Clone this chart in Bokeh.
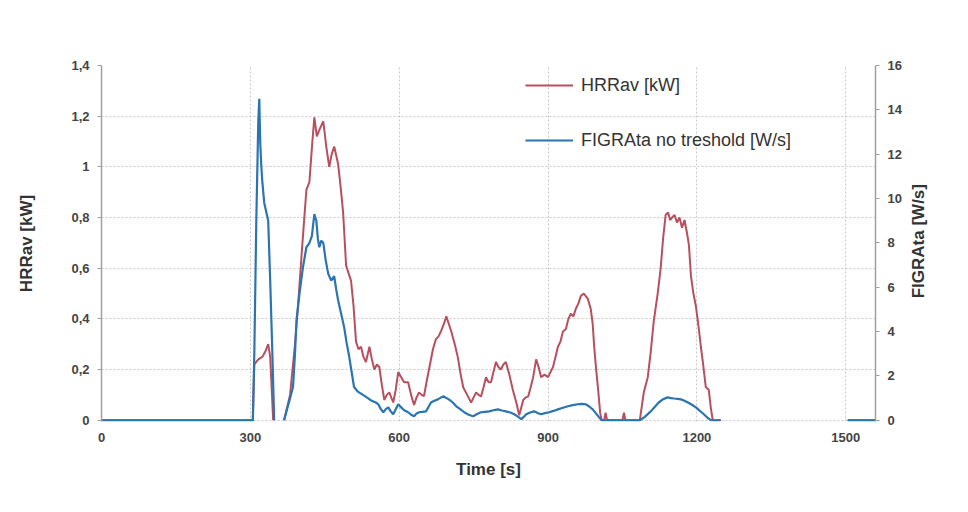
import math
from bokeh.plotting import figure
from bokeh.models import (Range1d, LinearAxis, FixedTicker, CustomJSTickFormatter,
                          Legend, LegendItem)
from bokeh.embed import file_html
from bokeh.resources import INLINE

nan = float("nan")

# HRRav [kW]  (left axis)
hrr_t = [0, 305, 308, 316, 324, 330, 336, 340, 346, 357,
         368, 380, 390, 396, 405, 413, 419, 425, 429, 434, 440, 447, 453, 459, 464, 469,
         477, 482, 487, 493, 503, 508, 513, 518, 523, 528, 533, 540, 545, 550, 555, 560,
         565, 570, 575, 580, 588, 593, 598, 604, 610, 618, 624, 630, 635, 640, 645, 650,
         655, 662, 668, 674, 679, 684, 690, 695, 700, 705, 712, 718, 724, 729, 737, 745,
         750, 755, 760, 765, 770, 775, 780, 785, 790, 795, 800, 805, 810, 815, 822, 829,
         836, 842, 846, 850, 855, 860, 865, 870, 876, 881, 886, 893, 900, 905, 910, 915,
         920, 925, 930, 936, 941, 946, 951, 956, 961, 966, 972, 976, 980, 986, 990, 993,
         997, 1001, 1005, 1008, 1013, 1016, 1019, 1050, 1053, 1056, 1085, 1093, 1101, 1107,
         1113, 1121, 1127, 1132, 1137, 1142, 1146, 1150, 1155, 1160, 1165, 1170, 1175, 1180,
         1184, 1188, 1193, 1198, 1204, 1208, 1212, 1218, 1224, 1228, 1232, 1248, 1300,
         1504, 1560]
hrr_v = [0, 0, 0.22, 0.24, 0.25, 0.27, 0.30, 0.25, 0.0, nan,
         0.0, 0.10, 0.30, 0.45, 0.70, 0.91, 0.94, 1.10, 1.195, 1.12, 1.15, 1.18, 1.08, 1.00, 1.05, 1.08,
         1.01, 0.92, 0.82, 0.61, 0.55, 0.45, 0.31, 0.28, 0.29, 0.25, 0.23, 0.29, 0.24, 0.20, 0.22, 0.21,
         0.14, 0.08, 0.10, 0.11, 0.07, 0.12, 0.19, 0.17, 0.15, 0.15, 0.10, 0.06, 0.09, 0.11, 0.10, 0.095,
         0.15, 0.22, 0.28, 0.32, 0.33, 0.35, 0.38, 0.41, 0.38, 0.35, 0.30, 0.25, 0.18, 0.13, 0.10, 0.07,
         0.09, 0.11, 0.10, 0.094, 0.13, 0.17, 0.15, 0.15, 0.19, 0.23, 0.21, 0.20, 0.22, 0.23, 0.18, 0.12,
         0.07, 0.02, 0.05, 0.08, 0.09, 0.094, 0.13, 0.17, 0.24, 0.21, 0.17, 0.18, 0.17, 0.19, 0.21, 0.25,
         0.29, 0.31, 0.35, 0.36, 0.40, 0.42, 0.41, 0.44, 0.46, 0.49, 0.50, 0.49, 0.48, 0.44, 0.38, 0.29,
         0.20, 0.12, 0.03, 0.0, 0.0, 0.03, 0.0, 0.0, 0.03, 0.0, 0.0, 0.11, 0.17, 0.27,
         0.39, 0.50, 0.60, 0.72, 0.81, 0.82, 0.79, 0.80, 0.81, 0.78, 0.80, 0.76, 0.79, 0.74,
         0.69, 0.57, 0.50, 0.45, 0.36, 0.29, 0.23, 0.13, 0.12, 0.05, 0.0, 0.0, nan,
         0.0, 0.0]

# FIGRAta no treshold [W/s]  (right axis)
figra_t = [0, 305, 308, 312, 316, 318, 320, 322, 324, 328, 332, 336, 340, 344, 348, 357,
           368, 374, 379, 386, 390, 393, 399, 406, 413, 419, 424, 429, 433, 436, 439, 443,
           447, 452, 457, 463, 469, 473, 477, 483, 489, 494, 499, 504, 509, 516, 523, 530,
           537, 543, 548, 553, 558, 563, 568, 573, 578, 583, 588, 593, 598, 604, 610, 618,
           624, 630, 635, 640, 647, 654, 659, 664, 671, 678, 684, 690, 695, 700, 708, 715,
           723, 731, 740, 749, 757, 765, 773, 781, 790, 799, 807, 815, 824, 832, 840, 846,
           851, 856, 864, 872, 879, 886, 894, 902, 911, 920, 930, 940, 950, 960, 968, 976,
           983, 990, 997, 1003, 1008, 1085, 1095, 1107, 1115, 1123, 1132, 1141, 1148, 1154,
           1161, 1168, 1175, 1182, 1190, 1198, 1206, 1214, 1221, 1228, 1248, 1300, 1504, 1560]
figra_v = [0, 0, 3.0, 9.0, 13.5, 14.5, 12.5, 11.5, 10.8, 9.8, 9.4, 9.0, 6.3, 3.3, 0.0, nan,
           0.0, 0.5, 0.9, 1.5, 3.0, 4.5, 5.7, 6.9, 7.8, 8.0, 8.3, 9.3, 9.0, 8.2, 7.8, 8.1,
           8.0, 7.2, 6.6, 6.3, 6.5, 5.9, 5.4, 4.8, 4.2, 3.5, 2.9, 2.2, 1.5, 1.3, 1.2, 1.1,
           1.0, 0.9, 0.85, 0.8, 0.72, 0.5, 0.36, 0.5, 0.58, 0.4, 0.27, 0.5, 0.72, 0.58, 0.45, 0.36,
           0.25, 0.18, 0.3, 0.36, 0.38, 0.4, 0.6, 0.8, 0.88, 0.94, 1.02, 1.08, 1.0, 0.94, 0.8, 0.63,
           0.5, 0.36, 0.25, 0.18, 0.28, 0.36, 0.38, 0.40, 0.45, 0.49, 0.44, 0.40, 0.35, 0.27, 0.15, 0.05,
           0.15, 0.27, 0.35, 0.40, 0.33, 0.27, 0.32, 0.36, 0.42, 0.49, 0.56, 0.63, 0.68, 0.72, 0.74, 0.72,
           0.62, 0.49, 0.30, 0.13, 0.0, 0.0, 0.15, 0.4, 0.6, 0.8, 0.95, 1.03, 1.0, 0.98,
           0.96, 0.94, 0.88, 0.8, 0.7, 0.58, 0.42, 0.27, 0.12, 0.0, 0.0, nan, 0.0, 0.0]

x_ticks = [0, 300, 600, 900, 1200, 1500]
left_ticks = [0, 0.2, 0.4, 0.6, 0.8, 1.0, 1.2, 1.4]
right_ticks = [0, 2, 4, 6, 8, 10, 12, 14, 16]

RED = "#b84f5f"
BLUE = "#2b74b2"
FONT = "Liberation Sans"

p = figure(width=968, height=512, output_backend="svg", toolbar_location=None,
           x_range=Range1d(0, 1560), y_range=Range1d(-0.005, 1.4),
           min_border_left=101, min_border_right=93, min_border_top=65,
           min_border_bottom=91, outline_line_color=None)
p.extra_y_ranges = {"figra": Range1d(-0.005 * 16 / 1.4, 16)}

r1 = p.line(hrr_t, hrr_v, line_color=RED, line_width=2)
r2 = p.line(figra_t, figra_v, line_color=BLUE, line_width=2.2, y_range_name="figra")

# axes
p.xaxis.ticker = FixedTicker(ticks=x_ticks)
p.yaxis.ticker = FixedTicker(ticks=left_ticks)
p.yaxis.formatter = CustomJSTickFormatter(
    code="var s = (Math.round(tick*10)/10).toString(); return s.replace('.', ',');")

rax = LinearAxis(y_range_name="figra", ticker=FixedTicker(ticks=right_ticks))
p.add_layout(rax, "right")

# second, invisible right axis: its single rotated tick label is the title,
# reading bottom-to-top and starting low enough to be centred on the axis
rax2 = LinearAxis(y_range_name="figra", ticker=FixedTicker(ticks=[5.5]),
                  formatter=CustomJSTickFormatter(code="return 'FIGRAta [W/s]';"))
rax2.axis_line_color = None
rax2.major_tick_line_color = None
rax2.minor_tick_line_color = None
rax2.major_tick_out = 0
rax2.major_tick_in = 0
rax2.minor_tick_out = 0
rax2.major_label_orientation = math.pi / 2
rax2.major_label_standoff = 14
p.add_layout(rax2, "right")

for ax in [p.yaxis[0], rax]:
    ax.axis_line_color = "#a0a0a0"
    ax.axis_line_width = 1.5
    ax.major_tick_line_color = "#a0a0a0"
    ax.major_tick_out = 4
    ax.major_tick_in = 0
    ax.minor_tick_line_color = None

xa = p.xaxis[0]
xa.axis_line_color = None
xa.major_tick_line_color = None
xa.minor_tick_line_color = None

for ax in [p.xaxis[0], p.yaxis[0], rax]:
    ax.major_label_text_font = FONT
    ax.major_label_text_font_size = "13px"
    ax.major_label_text_font_style = "bold"
    ax.major_label_text_color = "#444444"
    ax.axis_label_text_font = FONT
    ax.axis_label_text_font_size = "17px"
    ax.axis_label_text_font_style = "bold"
    ax.axis_label_text_color = "#333333"

rax2.major_label_text_font = FONT
rax2.major_label_text_font_size = "17px"
rax2.major_label_text_font_style = "bold"
rax2.major_label_text_color = "#333333"

p.yaxis[0].axis_label = "HRRav [kW]"
p.yaxis[0].axis_label_standoff = 32
p.yaxis[0].major_label_standoff = 8
rax.major_label_standoff = 8
xa.axis_label = "Time [s]"
xa.axis_label_standoff = 15
xa.major_label_standoff = 5

# grid
p.xgrid.grid_line_color = "#c8c8c8"
p.xgrid.grid_line_dash = "2 2"
p.ygrid.grid_line_color = "#c8c8c8"
p.ygrid.grid_line_dash = "2 2"

legend = Legend(items=[LegendItem(label="HRRav [kW]", renderers=[r1]),
                       LegendItem(label="FIGRAta no treshold [W/s]", renderers=[r2])],
                location=(424, 270))
legend.border_line_color = None
legend.background_fill_alpha = 0
legend.label_text_font = FONT
legend.label_text_font_size = "18px"
legend.label_text_color = "#333333"
legend.glyph_width = 48
legend.glyph_height = 22
legend.label_height = 22
legend.label_standoff = 8
legend.spacing = 33
legend.padding = 0
legend.margin = 0
p.add_layout(legend)

open("out.html", "w").write(file_html(p, INLINE))
